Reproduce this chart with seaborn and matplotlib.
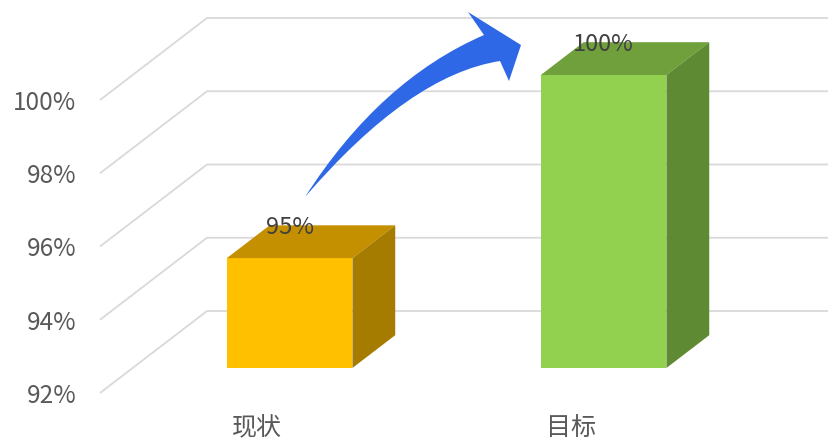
import numpy as np
import pandas as pd
import seaborn as sns
import matplotlib.pyplot as plt
from matplotlib.patches import Polygon, PathPatch
from matplotlib.path import Path

# data
categories = ["现状", "目标"]
values = [95, 100]
value_labels = ["95%", "100%"]
y_ticks = [92, 94, 96, 98, 100]
y_tick_labels = ["92%", "94%", "96%", "98%", "100%"]

front_colors = ["#FFC000", "#92D050"]
top_colors = ["#C49000", "#70A03C"]
side_colors = ["#A67C00", "#5D8A32"]

W, H = 829, 441
sns.set_style("white")
plt.rcParams["font.family"] = ["Noto Sans CJK SC", "DejaVu Sans"]

fig = plt.figure(figsize=(W / 100, H / 100), dpi=100)
ax = fig.add_axes([100 / W, 31 / H, 729 / W, 410 / H])

df = pd.DataFrame({"cat": categories, "val": values})
sns.barplot(data=df, x="cat", y="val", hue="cat", palette=front_colors,
            saturation=1, width=0.4, legend=False, ax=ax, zorder=2)

# fake 3d geometry (depth offset in data units)
px_x, px_y = 314, 36.625
dx, dy = 107 / px_x, 82 / px_y
f0, f1 = 0.305, 0.40
ymin = 92
base = ymin + f0 * dy

for p in ax.patches:
    i = int(round(p.get_x() + p.get_width() / 2))
    v = values[i]
    x0 = p.get_x() + f0 * dx
    x1 = x0 + p.get_width()
    top = v + f0 * dy
    p.set_x(x0)
    p.set_y(base)
    p.set_height(v - ymin)
    p.set_edgecolor("none")
    bx, by = f1 * dx, f1 * dy
    ax.add_patch(Polygon([(x0, top), (x1, top), (x1 + bx, top + by), (x0 + bx, top + by)],
                         closed=True, facecolor=top_colors[i], edgecolor="none", zorder=2))
    ax.add_patch(Polygon([(x1, base), (x1 + bx, base + by), (x1 + bx, top + by), (x1, top)],
                         closed=True, facecolor=side_colors[i], edgecolor="none", zorder=2))
    ax.text(i + f0 * dx, v + (f0 + f1) * dy - 0.05, value_labels[i], ha="center", va="center",
            fontsize=17, color="#404040", zorder=3)

xl = -0.5
xr = xl + 729 / px_x
for v in y_ticks:
    ax.plot([xl, xl + dx, xr], [v, v + dy, v + dy], color="#D9D9D9", lw=1.3,
            zorder=0.5, clip_on=False, solid_capstyle="butt")

ax.set_xlim(xl, xr)
ax.set_ylim(ymin - (410 - 393) / px_y, ymin + 393 / px_y)
ax.set_yticks(y_ticks, y_tick_labels)
ax.set_xticks([0, 1], categories)
ax.tick_params(axis="y", length=0, pad=17, labelsize=17.5, colors="#595959")
ax.tick_params(axis="x", length=0, pad=4, labelsize=18, colors="#595959")
ax.set_xlabel("")
ax.set_ylabel("")
ax.grid(False)
sns.despine(ax=ax, left=True, bottom=True)


# curved arrow (decoration)
def fpx(x, y):
    return (x / W, 1 - y / H)


verts = [fpx(305, 197), fpx(380, 80), fpx(484, 35), fpx(468, 12), fpx(521, 45),
         fpx(509, 81), fpx(500, 61), fpx(410, 75), fpx(305, 197), fpx(305, 197)]
codes = [Path.MOVETO, Path.CURVE3, Path.CURVE3, Path.LINETO, Path.LINETO,
         Path.LINETO, Path.LINETO, Path.CURVE3, Path.CURVE3, Path.CLOSEPOLY]
fig.patches.append(PathPatch(Path(verts, codes), transform=fig.transFigure,
                             facecolor="#2E68E6", edgecolor="none", zorder=5))

fig.savefig("out.png", dpi=100)
